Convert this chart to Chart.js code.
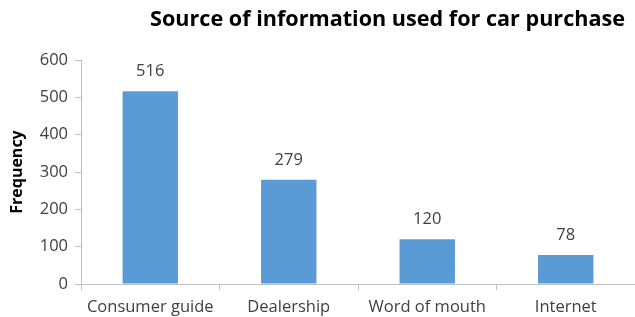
<!DOCTYPE html>
<html>
<head>
<meta charset="utf-8">
<script src="https://cdn.jsdelivr.net/npm/chart.js@4.4.1/dist/chart.umd.min.js"></script>
<style>
html,body{margin:0;padding:0;background:#fff;overflow:hidden;}
#wrap{width:635px;height:317px;position:relative;}
</style>
</head>
<body>
<div id="wrap"><canvas id="c" width="635" height="317"></canvas></div>
<script>
const categories = ["Consumer guide", "Dealership", "Word of mouth", "Internet"];
const frequencies = [516, 279, 120, 78];
const chartTitle = "Source of information used for car purchase";
const yAxisTitle = "Frequency";

const FONT = "'Open Sans', sans-serif";
const axisColor = "#bfbfbf";
const labelColor = "#404040";

const titlePlugin = {
  id: 'customTitle',
  afterDraw(chart) {
    const ctx = chart.ctx;
    ctx.save();
    let size = 20;
    ctx.font = "bold " + size + "px " + FONT;
    const w = ctx.measureText(chartTitle).width;
    size = size * 475 / w;
    ctx.font = "bold " + size.toFixed(2) + "px " + FONT;
    ctx.fillStyle = "#000";
    ctx.textAlign = "right";
    ctx.textBaseline = "middle";
    ctx.fillText(chartTitle, 625, 20);
    ctx.restore();
  }
};

const valueLabels = {
  id: 'valueLabels',
  afterDatasetsDraw(chart) {
    const ctx = chart.ctx;
    const meta = chart.getDatasetMeta(0);
    ctx.save();
    ctx.font = "16.5px " + FONT;
    ctx.fillStyle = "#404040";
    ctx.textAlign = "center";
    ctx.textBaseline = "middle";
    meta.data.forEach((bar, i) => {
      ctx.fillText(String(chart.data.datasets[0].data[i]), bar.x, bar.y - 20);
    });
    ctx.restore();
  }
};

new Chart(document.getElementById('c'), {
  type: 'bar',
  data: {
    labels: categories,
    datasets: [{
      data: frequencies,
      backgroundColor: "#5b9bd5",
      borderWidth: 0,
      categoryPercentage: 1.0,
      barPercentage: 0.4
    }]
  },
  options: {
    responsive: false,
    animation: false,
    devicePixelRatio: 1,
    layout: { padding: { top: 60, right: 0, left: 0, bottom: 0 } },
    plugins: { legend: { display: false }, title: { display: false }, tooltip: { enabled: false } },
    scales: {
      x: {
        offset: true,
        grid: { offset: true, drawOnChartArea: false, drawTicks: true, tickLength: 6, color: axisColor },
        border: { color: axisColor, width: 1 },
        ticks: { color: labelColor, font: { family: FONT, size: 16.5 }, padding: 7, maxRotation: 0 },
        afterFit(scale) { scale.height = 33; }
      },
      y: {
        min: 0, max: 600,
        ticks: { stepSize: 100, color: labelColor, font: { family: FONT, size: 16.5 }, padding: 7 },
        grid: { drawOnChartArea: false, drawTicks: true, tickLength: 6, color: axisColor },
        border: { color: axisColor, width: 1 },
        title: { display: true, text: yAxisTitle, color: "#000", font: { family: FONT, size: 16, weight: 'bold' }, padding: { top: 8, bottom: 0 } },
        afterFit(scale) { scale.width = 81; }
      }
    }
  },
  plugins: [titlePlugin, valueLabels]
});
</script>
</body>
</html>
